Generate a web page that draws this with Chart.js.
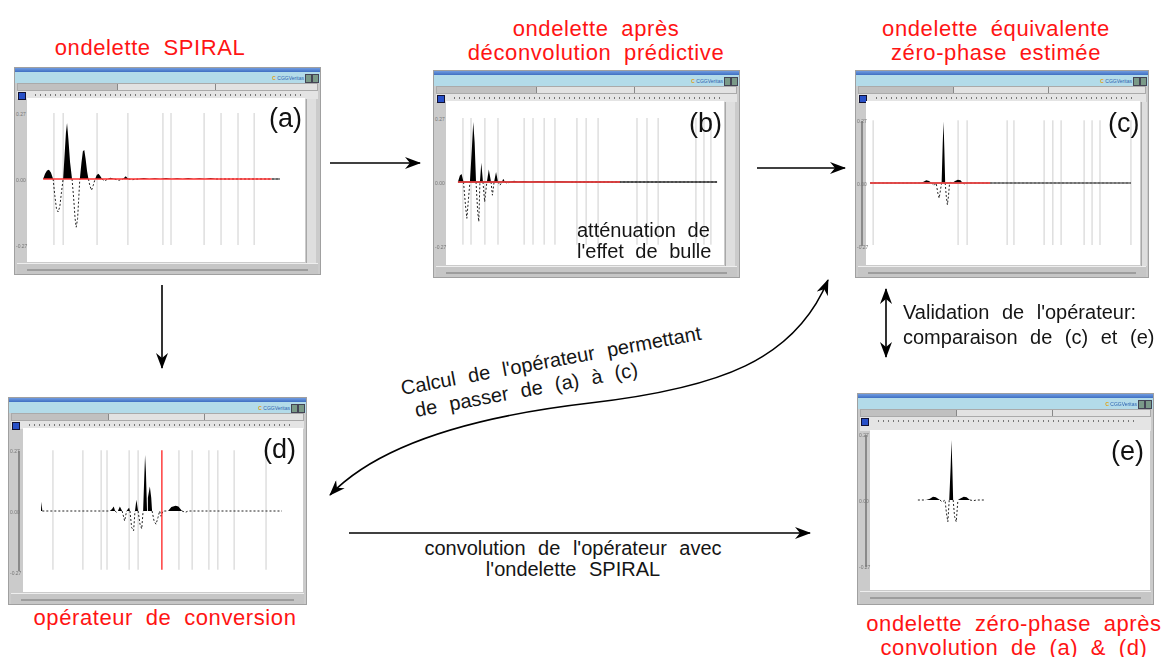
<!DOCTYPE html>
<html>
<head>
<meta charset="utf-8">
<script src="https://cdn.jsdelivr.net/npm/chart.js@4.4.1/dist/chart.umd.min.js"></script>
<style>
body { margin: 0; width: 1168px; height: 657px; position: relative; overflow: hidden; background: #fff; font-family: "Liberation Sans", Arial, sans-serif; }
.rouge { position: absolute; color: #ff1414; font-size: 22px; line-height: 24px; text-align: center; white-space: nowrap; word-spacing: 6px; letter-spacing: 0.6px; transform: translateX(-50%); }
.noir { position: absolute; color: #151515; font-size: 20px; line-height: 22px; white-space: nowrap; word-spacing: 7px; }
.fen { position: absolute; background: #cbcbcb; border: 1px solid #a0a0a0; box-sizing: border-box; overflow: hidden; }
.fen div, .fen canvas, .fen span { position: absolute; }
.bleu { left: 0; right: 0; top: 0; height: 4px; background: linear-gradient(#6f9be0, #3f6fc2); }
.cyan { left: 0; right: 0; top: 4px; height: 11px; background: #b3dbe9; }
.logo { right: 16px; top: 3px; font-size: 5px; color: #2c62b0; }
.logo b { color: #e0a010; }
.ico { top: 2px; width: 5px; height: 7px; background: #7a9a88; border: 1px solid #445; }
.onglets { left: 2px; right: 2px; top: 15px; height: 8px; background: #e2e2e2; border: 1px solid #aaa; box-sizing: border-box; }
.onglet1 { left: 0; top: 0; bottom: 0; width: 33%; background: #c0c0c0; border-right: 1px solid #888; }
.sep { top: 0; bottom: 0; width: 1px; background: #888; }
.outils { left: 2px; right: 2px; top: 23px; background: #e4e4e4; }
.btn { left: 1px; top: 1px; width: 6px; height: 6px; background: #2850c8; border: 1px solid #113; }
.points { left: 18px; right: 14px; top: 3px; height: 2px; background: repeating-linear-gradient(90deg, #777 0 1px, transparent 1px 5px); }
.asc { background: #dedede; border-left: 1px solid #a8a8a8; }
.basf { left: 2px; right: 2px; background: #c6c6c6; border-top: 1px solid #eee; }
.basf span { left: 10px; right: 10px; top: 5px; height: 2px; background: #9d9d9d; }
.axe { width: 2px; background: #8a8a8a; }
.lettre { font-size: 27px; color: #111; line-height: 27px; }
.echelle { font-size: 5px; color: #777; line-height: 5px; }
canvas { background: #fff; }
svg { position: absolute; left: 0; top: 0; }
</style>
</head>
<body>

<div class="rouge" style="left:150px;top:36px">ondelette SPIRAL</div>
<div class="rouge" style="left:596px;top:17px">ondelette après<br>déconvolution prédictive</div>
<div class="rouge" style="left:996px;top:17px">ondelette équivalente<br>zéro-phase estimée</div>
<div class="rouge" style="left:165px;top:606px">opérateur de conversion</div>
<div class="rouge" style="left:1014px;top:612px">ondelette zéro-phase après<br>convolution de (a) &amp; (d)</div>

<div id="panneaux"></div>

<div class="noir" style="left:577px;top:220px;line-height:21px;font-size:20px;word-spacing:6px">atténuation de<br>l'effet de bulle</div>
<div class="noir" style="left:903px;top:300px;line-height:25px">Validation de l'opérateur:<br>comparaison de (c) et (e)</div>
<div class="noir" style="left:573px;top:538px;line-height:21px;text-align:center;transform:translateX(-50%)">convolution de l'opérateur avec<br>l'ondelette SPIRAL</div>
<div class="noir" style="left:403px;top:377px;transform:rotate(-10.5deg);transform-origin:0 100%">Calcul de l'opérateur permettant</div>
<div class="noir" style="left:417px;top:399px;transform:rotate(-10.5deg);transform-origin:0 100%">de passer de (a) à (c)</div>

<svg width="1168" height="657">
  <defs>
    <marker id="fleche" viewBox="0 0 16 12" refX="15" refY="6" markerWidth="16" markerHeight="12" markerUnits="userSpaceOnUse" orient="auto-start-reverse">
      <path d="M0,0 L16,6 L0,12 L5,6 z" fill="#000"/>
    </marker>
  </defs>
  <g stroke="#000" stroke-width="1.6" fill="none">
    <line x1="330" y1="163" x2="420" y2="163" marker-end="url(#fleche)"/>
    <line x1="757" y1="168" x2="845" y2="168" marker-end="url(#fleche)"/>
    <line x1="162" y1="285" x2="162" y2="368" marker-end="url(#fleche)"/>
    <line x1="886" y1="289" x2="886" y2="357" marker-start="url(#fleche)" marker-end="url(#fleche)"/>
    <line x1="349" y1="533" x2="810" y2="533" marker-end="url(#fleche)"/>
    <path d="M330,495 C375,448 460,418 590,403 C720,388 795,360 828,280" marker-start="url(#fleche)" marker-end="url(#fleche)"/>
  </g>
</svg>

<script>
// ===== Donnees (x : 0-100 sur la largeur de la zone blanche, y : amplitude) =====

// (a) ondelette SPIRAL
var tempsA = [5.8, 6.5, 7.2, 7.9, 8.6, 9.4, 10.0, 10.6, 11.2, 11.8, 12.4, 13.0, 13.5, 14.0, 14.4, 14.9, 15.5, 16.2,
	16.8, 17.3, 17.7, 18.2, 18.6, 19.0, 19.6, 20.1, 20.6, 21.1, 21.6, 22.1, 22.6, 23.2, 23.8, 24.5, 25.1, 25.7, 26.3,
	27.0, 28.0, 29.0, 30.0, 31.5, 33.0, 34.5, 35.5, 36.5, 38.0, 40.0, 42.0, 44.0, 46.0, 48.0, 50.0, 52.0, 54.0, 56.0,
	58.0, 60.0, 62.0, 64.0, 66.0, 68.0, 70.0, 91.0];
var amplA = [0, 0.08, 0.13, 0.14, 0.1, 0, -0.25, -0.45, -0.5, -0.42, -0.2, 0, 0.35, 0.7, 0.85, 0.6, 0.25, 0,
	-0.3, -0.6, -0.73, -0.6, -0.3, 0, 0.25, 0.42, 0.44, 0.3, 0.12, 0, -0.1, -0.17, -0.1, 0, 0.06, 0.08, 0.05,
	0, -0.03, 0, 0.02, 0, -0.02, 0, 0.04, 0, -0.01, 0, 0.015, 0, 0.01, 0, 0.015, 0, 0.01, 0, 0.015, 0, 0.01, 0,
	0.015, 0, 0, 0];
var lignesA = [9.7, 13.0, 25.2, 36.3, 48.9, 51.8, 63.7, 69.8, 75.9, 81.7];
var basesA = [[5.8, 88, "#ff3030"], [88, 91, "#555"]];

// (b) ondelette apres deconvolution predictive
var tempsB = [4.3, 5.0, 5.6, 6.3, 7.0, 7.5, 8.0, 8.6, 9.3, 9.8, 10.3, 10.8, 11.4, 11.8, 12.2, 12.7, 13.3, 13.9,
	14.7, 15.4, 16.2, 16.7, 17.3, 18.0, 18.7, 19.4, 20.1, 20.6, 21.2, 22.0, 23.0, 24.5, 26.0, 28.0, 30.0, 33.0, 36.0,
	40.0, 45.0, 97.5];
var amplB = [0, 0.1, 0.12, 0, -0.35, -0.55, -0.3, 0, 0.5, 0.91, 0.6, 0, -0.45, -0.6, 0, 0.29, 0, -0.3,
	0, 0.19, 0, -0.2, 0, 0.15, 0, -0.05, 0, 0.05, 0, -0.02, 0, 0.02, 0, 0.015, 0, 0.01, 0,
	0.01, 0, 0];
var lignesB = [6.1, 9.0, 14.0, 18.7, 28.1, 31.3, 35.3, 39.2, 47.1, 50.4, 54.7, 68.7, 72.3, 76.3, 89.9, 92.8, 95.3];
var basesB = [[4.3, 97.5, "#333"], [4.3, 62.6, "#ff3a3a"]];

// (c) ondelette equivalente zero-phase estimee
var tempsC = [1.5, 20.0, 21.0, 22.0, 23.0, 24.0, 24.8, 25.6, 26.2, 26.7, 27.2, 27.6, 28.0, 28.3, 28.6, 28.9,
	29.3, 29.7, 30.1, 30.5, 31.0, 31.5, 32.5, 33.5, 34.5, 35.3, 36.0, 37.0, 96.7];
var amplC = [0, 0, 0.02, 0.04, 0.03, 0, -0.04, 0, -0.15, -0.23, -0.1, 0, 0.6, 0.93, 0.5, 0,
	-0.2, -0.33, -0.2, 0, 0.02, 0, 0.03, 0.05, 0.04, 0, -0.02, 0, 0];
var lignesC = [2.6, 33.6, 36.9, 51.5, 54.0, 65.0, 68.2, 71.2, 79.6, 82.5, 85.4, 96.7];
var basesC = [[1.5, 96.7, "#666"], [1.5, 45.3, "#ff3a3a"]];

// (d) operateur de conversion
var tempsD = [6.4, 6.6, 6.9, 8.0, 31.0, 31.8, 32.4, 32.9, 33.4, 33.9, 34.6, 35.4, 36.3, 37.0, 37.5, 37.9, 38.2,
	38.8, 39.5, 40.0, 40.5, 41.1, 41.8, 42.4, 42.9, 43.3, 43.6, 43.9, 44.3, 44.6, 45.3, 45.8, 46.1, 46.8, 47.5, 48.2,
	48.8, 49.3, 50.0, 51.8, 53.0, 54.5, 55.5, 56.8, 58.0, 59.0, 92.5];
var amplD = [0, 0.14, 0, 0, 0, 0.03, 0.07, 0, -0.02, 0, 0.07, 0, -0.15, 0, 0.03, 0.05, 0,
	-0.25, -0.3, 0, 0.17, 0, -0.2, -0.27, 0, 0.5, 0.85, 0.6, 0, 0.2, 0.37, 0.2, 0, -0.15, -0.2, -0.1,
	0, -0.08, 0, 0, 0.06, 0.08, 0.07, 0, -0.02, 0, 0];
var lignesD = [10.7, 21.4, 27.9, 30.0, 37.9, 41.1, 55.7, 60.4, 66.4, 69.6, 75.4, 86.8];
var repereD = 49.6; // trait rouge vertical

// (e) ondelette zero-phase apres convolution de (a) & (d)
var tempsE = [17.1, 20.0, 21.4, 22.5, 23.5, 25.0, 25.8, 26.8, 27.3, 27.8, 28.3, 28.8, 29.1, 29.4, 29.7, 30.2,
	30.8, 31.4, 32.1, 33.5, 34.5, 35.7, 37.0, 38.0, 41.1];
var amplE = [0, 0, 0.02, 0.05, 0.04, 0, -0.03, 0, -0.2, -0.33, 0, 0.5, 0.91, 0.5, 0, -0.25,
	-0.33, 0, 0.02, 0.05, 0.04, 0, -0.01, 0, 0];

var echelleA = ["0.27", "0.00", "-0.27"];

// ===== Mise en page des fenetres =====
var pxParUnite = 66;

var panneaux = [
	{ lettre: "(a)", x: 14, y: 67, w: 307, h: 208, cx: 27, cy: 98, cw: 278, ch: 164, base: 81,
		lx: 268, ly: 104, temps: tempsA, ampl: amplA, lignes: lignesA, haut: 1, bas: -1, bases: basesA },
	{ lettre: "(b)", x: 433, y: 70, w: 307, h: 208, cx: 446, cy: 101, cw: 278, ch: 164, base: 81,
		lx: 688, ly: 109, temps: tempsB, ampl: amplB, lignes: lignesB, haut: 0.97, bas: -0.95, bases: basesB },
	{ lettre: "(c)", x: 855, y: 70, w: 294, h: 208, cx: 866, cy: 101, cw: 274, ch: 164, base: 82,
		lx: 1107, ly: 109, temps: tempsC, ampl: amplC, lignes: lignesC, haut: 0.95, bas: -0.94, bases: basesC,
		axe: true },
	{ lettre: "(d)", x: 8, y: 397, w: 299, h: 208, cx: 23, cy: 428, cw: 280, ch: 164, base: 83,
		lx: 262, ly: 435, temps: tempsD, ampl: amplD, lignes: lignesD, haut: 0.92, bas: -0.89, bases: [],
		repere: repereD, axe: true },
	{ lettre: "(e)", x: 857, y: 393, w: 297, h: 212, cx: 870, cy: 430, cw: 280, ch: 160, base: 70,
		lx: 1110, ly: 437, temps: tempsE, ampl: amplE, lignes: [], haut: 1, bas: -1, bases: [], axe: true },
];

function construireFenetre(p, i) {
	var fen = document.createElement("div");
	fen.className = "fen";
	fen.style.left = p.x + "px";
	fen.style.top = p.y + "px";
	fen.style.width = p.w + "px";
	fen.style.height = p.h + "px";

	var hautOutils = p.cy - p.y - 23;
	var basBlanc = p.cy - p.y + p.ch;
	var placeAsc = p.w - (p.cx - p.x + p.cw) - 4;

	fen.innerHTML = `
		<div class="bleu"></div>
		<div class="cyan"><span class="logo"><b>C</b> CGGVeritas</span>
			<span class="ico" style="right:8px"></span><span class="ico" style="right:1px"></span></div>
		<div class="onglets"><span class="onglet1"></span><span class="sep" style="left:66%"></span></div>
		<div class="outils" style="height:${hautOutils}px"><span class="btn"></span><span class="points"></span></div>
		<div class="basf" style="top:${basBlanc}px;bottom:0"><span></span></div>
		<canvas id="graphe${i}" width="${p.cw}" height="${p.ch}"
			style="left:${p.cx - p.x - 1}px;top:${p.cy - p.y - 1}px"></canvas>
		<div class="lettre" style="left:${p.lx - p.x}px;top:${p.ly - p.y}px">${p.lettre}</div>
	`;

	// ascenseur de droite (seulement s'il reste de la place)
	if (placeAsc > 4) {
		var asc = document.createElement("div");
		asc.className = "asc";
		asc.style.left = (p.cx - p.x + p.cw) + "px";
		asc.style.width = Math.min(placeAsc, 9) + "px";
		asc.style.top = (p.cy - p.y) + "px";
		asc.style.height = p.ch + "px";
		fen.appendChild(asc);
	}

	// trait vertical de l'axe d'amplitude
	if (p.axe) {
		var axe = document.createElement("div");
		axe.className = "axe";
		axe.style.left = (p.cx - p.x - 6) + "px";
		axe.style.top = (p.cy - p.y + p.base - p.haut * pxParUnite) + "px";
		axe.style.height = ((p.haut - p.bas) * pxParUnite) + "px";
		fen.appendChild(axe);
	}

	// petites graduations de l'axe d'amplitude
	for (var k = 0; k < echelleA.length; k++) {
		var e = document.createElement("div");
		e.className = "echelle";
		e.textContent = echelleA[k];
		e.style.left = "1px";
		e.style.top = (p.cy - p.y + p.base - p.haut * pxParUnite + k * p.haut * pxParUnite - 2) + "px";
		fen.appendChild(e);
	}

	document.getElementById("panneaux").appendChild(fen);
}

function tracerPanneau(p, i) {
	var jeux = [];

	// lignes verticales grises
	var grille = [];
	for (var k = 0; k < p.lignes.length; k++) {
		grille.push({ x: p.lignes[k], y: p.bas }, { x: p.lignes[k], y: p.haut }, { x: p.lignes[k], y: null });
	}
	jeux.push({ data: grille, borderColor: "#cecece", borderWidth: 1, order: 5 });

	// lobes positifs remplis en noir
	jeux.push({
		data: p.temps.map((t, j) => ({ x: t, y: Math.max(p.ampl[j], 0) })),
		borderColor: "rgba(0,0,0,0)",
		backgroundColor: "#000",
		fill: "origin",
		order: 3,
	});

	// lobes negatifs en pointilles
	jeux.push({
		data: p.temps.map((t, j) => ({ x: t, y: p.ampl[j] <= 0 ? p.ampl[j] : null })),
		borderColor: "#222",
		borderWidth: 1,
		borderDash: [2, 2],
		order: 2,
	});

	// ligne de base (rouge puis grise)
	for (var k = 0; k < p.bases.length; k++) {
		jeux.push({
			data: [{ x: p.bases[k][0], y: 0 }, { x: p.bases[k][1], y: 0 }],
			borderColor: p.bases[k][2],
			borderWidth: 1.3,
			order: 1 - k,
		});
	}

	if (p.repere !== undefined) {
		jeux.push({
			data: [{ x: p.repere, y: p.bas }, { x: p.repere, y: p.haut }],
			borderColor: "#ff2020",
			borderWidth: 1.3,
			order: 0,
		});
	}

	new Chart(document.getElementById("graphe" + i), {
		type: "line",
		data: { datasets: jeux },
		options: {
			responsive: false,
			animation: false,
			devicePixelRatio: 1,
			layout: { padding: 0 },
			elements: { point: { radius: 0 }, line: { tension: 0 } },
			scales: {
				x: { type: "linear", min: 0, max: 100, display: false },
				y: { min: -(p.ch - p.base) / pxParUnite, max: p.base / pxParUnite, display: false },
			},
			plugins: { legend: { display: false }, tooltip: { enabled: false } },
		},
	});
}

for (var i = 0; i < panneaux.length; i++) {
	construireFenetre(panneaux[i], i);
	tracerPanneau(panneaux[i], i);
}
</script>
</body>
</html>
